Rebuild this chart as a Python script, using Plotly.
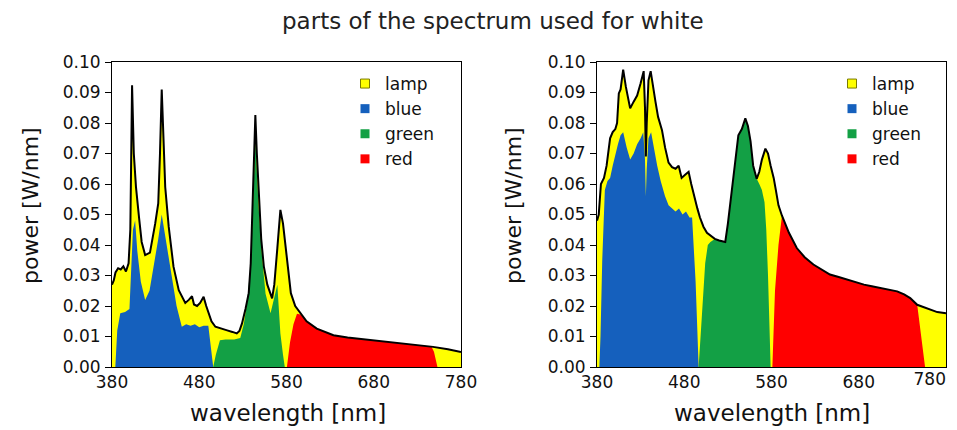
import plotly.graph_objects as go

# ---------------- data ----------------
# Left panel: fluorescent lamp
left_lamp_wl = [380, 382, 384, 387, 390, 393, 396, 399, 401, 403, 405, 407.5, 411, 414, 418, 423.5, 429.5, 433, 435, 437,
                439, 441, 445, 450.5, 456.5, 464, 468, 471.7, 474, 477.5, 481, 485, 488, 490.7, 494, 498.5, 505, 512, 518,
                523, 526, 529, 533, 536.7, 539, 540.5, 542.5, 544.3, 546, 548, 551, 554, 558, 563.5, 566, 569.5, 573, 576,
                579, 582, 585, 590, 596, 603, 614.7, 633.8, 650, 672, 690, 710, 730, 748, 765, 780]
left_lamp_pw = [0.027, 0.0284, 0.031, 0.0324, 0.032, 0.033, 0.0313, 0.034, 0.045, 0.0924, 0.07, 0.059, 0.049, 0.041, 0.0367,
                0.0375, 0.047, 0.0536, 0.07, 0.091, 0.075, 0.059, 0.046, 0.0329, 0.0252, 0.021, 0.022, 0.0232, 0.0205, 0.020,
                0.021, 0.023, 0.020, 0.0176, 0.015, 0.0132, 0.0125, 0.012, 0.0115, 0.011, 0.0118, 0.0143, 0.019, 0.0242,
                0.034, 0.046, 0.065, 0.0826, 0.07, 0.0568, 0.042, 0.033, 0.027, 0.0225, 0.027, 0.039, 0.0515, 0.047, 0.039,
                0.030, 0.0242, 0.020, 0.0176, 0.015, 0.0126, 0.0104, 0.0097, 0.009, 0.0085, 0.0079, 0.0073, 0.0066, 0.0058,
                0.0049]

left_blue_wl = [383.8, 386, 389.5, 395, 400, 402, 404, 406.5, 409, 413, 418, 423, 428, 433, 437, 441, 445, 449, 454, 460,
                465, 470, 475, 480, 485, 490.4, 493, 496]
left_blue_pw = [0, 0.012, 0.0176, 0.018, 0.019, 0.03, 0.045, 0.048, 0.038, 0.028, 0.022, 0.025, 0.033, 0.042, 0.05, 0.043,
                0.036, 0.030, 0.020, 0.0132, 0.014, 0.0135, 0.014, 0.013, 0.0135, 0.0135, 0.007, 0]

left_green_wl = [496, 499, 503.7, 510, 520, 527, 531, 534.8, 538, 540.5, 542.5, 544.3, 546, 548, 552, 556, 561.7, 565,
                 567.5, 569.5, 571, 573, 576, 578]
left_green_pw = [0, 0.004, 0.0088, 0.009, 0.009, 0.0095, 0.014, 0.021, 0.031, 0.044, 0.06, 0.0744, 0.064, 0.0525, 0.036,
                 0.024, 0.0176, 0.022, 0.0252, 0.027, 0.02, 0.011, 0.004, 0]

left_red_wl = [580.5, 584, 588, 592, 596, 603, 614.7, 633.8, 650, 672, 690, 710, 730, 746, 749, 751, 753]
left_red_pw = [0, 0.008, 0.014, 0.0175, 0.0172, 0.015, 0.0126, 0.0104, 0.0097, 0.009, 0.0085, 0.0079, 0.0073, 0.0067,
               0.005, 0.002, 0]

# Right panel: broadband lamp
right_lamp_wl = [380, 382, 384.5, 388, 391, 393, 395, 398, 401, 403, 405, 407, 410, 413, 418, 422, 426, 430, 433.5, 435,
                 436, 437, 439, 441.5, 444, 447, 450, 454.5, 458, 462, 466, 470, 473.6, 477, 481, 485, 488, 492, 495, 498,
                 502, 506, 510, 515, 520, 527, 530, 533, 537, 540, 542, 546, 550, 553, 556, 559, 563, 566, 569, 573, 576,
                 579, 582.5, 585, 588, 592, 600, 609, 618, 628, 637, 647, 657, 667, 676, 686, 695, 705, 715, 724, 732, 739,
                 747, 755, 762, 770, 780]
right_lamp_pw = [0.048, 0.050, 0.060, 0.062, 0.066, 0.0716, 0.075, 0.077, 0.078, 0.080, 0.0897, 0.091, 0.0975, 0.092,
                 0.0848, 0.087, 0.089, 0.093, 0.097, 0.085, 0.069, 0.080, 0.094, 0.097, 0.092, 0.087, 0.082, 0.0776, 0.072,
                 0.067, 0.0655, 0.065, 0.066, 0.062, 0.063, 0.064, 0.060, 0.055, 0.052, 0.049, 0.046, 0.044, 0.043, 0.042,
                 0.0415, 0.041, 0.047, 0.054, 0.064, 0.071, 0.076, 0.078, 0.0815, 0.079, 0.074, 0.066, 0.0617, 0.064, 0.068,
                 0.0716, 0.070, 0.066, 0.062, 0.058, 0.053, 0.0496, 0.044, 0.039, 0.036, 0.0336, 0.032, 0.0303, 0.0295,
                 0.0286, 0.028, 0.027, 0.0265, 0.0259, 0.0255, 0.0248, 0.0238, 0.0226, 0.0204, 0.0195, 0.0187, 0.018, 0.0176]

right_blue_wl = [382.7, 384, 386, 389, 392, 395, 398, 401, 404, 407, 410, 414, 418, 422, 426, 430, 433, 435, 436, 437, 439,
                 442, 445, 449, 453, 458, 462, 466, 470, 474, 478, 482, 486, 489, 491, 493, 495, 496.5]
right_blue_pw = [0, 0.01, 0.035, 0.058, 0.061, 0.062, 0.066, 0.070, 0.073, 0.076, 0.077, 0.072, 0.068, 0.070, 0.073, 0.075,
                 0.077, 0.068, 0.056, 0.065, 0.075, 0.077, 0.072, 0.066, 0.061, 0.056, 0.053, 0.052, 0.051, 0.052, 0.050,
                 0.051, 0.049, 0.049, 0.040, 0.028, 0.012, 0]

right_green_wl = [496.5, 499, 501, 504, 507, 510, 515, 520, 527, 530, 533, 537, 540, 542, 546, 550, 553, 556, 559, 563, 566,
                  569, 572, 574, 576, 578, 579]
right_green_pw = [0, 0.012, 0.022, 0.034, 0.040, 0.041, 0.042, 0.0415, 0.041, 0.047, 0.054, 0.064, 0.071, 0.076, 0.078,
                  0.0815, 0.079, 0.074, 0.066, 0.0617, 0.060, 0.058, 0.054, 0.045, 0.030, 0.012, 0]

right_red_wl = [581, 584, 588, 592, 600, 609, 618, 628, 637, 647, 657, 667, 676, 686, 695, 705, 715, 724, 732, 739, 747,
                750, 753, 756]
right_red_pw = [0, 0.025, 0.040, 0.0496, 0.044, 0.039, 0.036, 0.0336, 0.032, 0.0303, 0.0295, 0.0286, 0.028, 0.027, 0.0265,
                0.0259, 0.0255, 0.0248, 0.0238, 0.0226, 0.0204, 0.014, 0.006, 0]

series_names = ["lamp", "blue", "green", "red"]
x_ticks = [380, 480, 580, 680, 780]
y_ticks = [0.00, 0.01, 0.02, 0.03, 0.04, 0.05, 0.06, 0.07, 0.08, 0.09, 0.10]

# ---------------- styling ----------------
YELLOW = "#FFFF00"
BLUE = "#1560BD"
GREEN = "#13A045"
RED = "#FF0000"
FONT = "DejaVu Sans, sans-serif"
W, H = 957, 430

panels = [
    dict(lamp=(left_lamp_wl, left_lamp_pw), blue=(left_blue_wl, left_blue_pw),
         green=(left_green_wl, left_green_pw), red=(left_red_wl, left_red_pw),
         xaxis="x", yaxis="y", legend="legend"),
    dict(lamp=(right_lamp_wl, right_lamp_pw), blue=(right_blue_wl, right_blue_pw),
         green=(right_green_wl, right_green_pw), red=(right_red_wl, right_red_pw),
         xaxis="x2", yaxis="y2", legend="legend2"),
]

fig = go.Figure()
for p in panels:
    ax = dict(xaxis=p["xaxis"], yaxis=p["yaxis"])
    lx, ly = p["lamp"]
    fig.add_trace(go.Scatter(x=lx, y=ly, mode="lines", fill="tozeroy", fillcolor=YELLOW,
                             line=dict(color=YELLOW, width=0), showlegend=False, hoverinfo="skip", **ax))
    for key, col in (("blue", BLUE), ("green", GREEN), ("red", RED)):
        sx, sy = p[key]
        fig.add_trace(go.Scatter(x=sx, y=sy, mode="lines", fill="tozeroy", fillcolor=col,
                                 line=dict(color=col, width=0), showlegend=False, **ax))
    fig.add_trace(go.Scatter(x=lx, y=ly, mode="lines", line=dict(color="black", width=2),
                             showlegend=False, **ax))
    # legend entries
    for name, col in zip(series_names, (YELLOW, BLUE, GREEN, RED)):
        mline = dict(color="#7a7a00", width=1) if name == "lamp" else dict(color=col, width=0)
        fig.add_trace(go.Scatter(x=[None], y=[None], mode="markers", name=name,
                                 marker=dict(symbol="square", size=9, color=col, line=mline),
                                 legend=p["legend"], **ax))

# helper trace so the overlay axis carrying the right panel's last label is drawn
fig.add_trace(go.Scatter(x=[None], y=[None], mode="markers", showlegend=False, xaxis="x3", yaxis="y2"))

x_dom = [[112 / W, 461 / W], [597 / W, 946 / W]]
y_dom = [1 - 367 / H, 1 - 62 / H]

axis_common = dict(showline=True, linecolor="black", linewidth=1, mirror=True, showgrid=False, zeroline=False,
                   tickfont=dict(family=FONT, size=17, color="#111"))
layout = dict(width=W, height=H, margin=dict(l=0, r=0, t=0, b=0), plot_bgcolor="white", paper_bgcolor="white",
              font=dict(family=FONT, color="#111"))
# left panel shows all x labels; right panel's final label sits just left of its tick (as in the reference)
x_tickvals = [x_ticks, x_ticks[:-1]]
for i, suf in enumerate(["", "2"]):
    layout["xaxis" + suf] = dict(domain=x_dom[i], range=[380, 780], tickmode="array", tickvals=x_tickvals[i],
                                 ticks="", anchor="y" + suf, automargin=False,
                                 ticklabelstandoff=0, **axis_common)
    layout["yaxis" + suf] = dict(domain=y_dom, range=[0, 0.10], tickmode="array", tickvals=y_ticks,
                                 tickformat=".2f", ticks="outside", ticklen=6, tickcolor="black",
                                 anchor="x" + suf, automargin=False, ticklabelstandoff=1, **axis_common)
layout["xaxis3"] = dict(domain=x_dom[1], range=[380, 780], overlaying="x2", anchor="y2", side="bottom",
                        tickmode="array", tickvals=x_ticks[-1:], ticks="", showline=False, showgrid=False,
                        zeroline=False, ticklabelposition="outside left", ticklabelstandoff=0, automargin=False,
                        tickfont=dict(family=FONT, size=17, color="#111"))
leg_common = dict(bgcolor="rgba(0,0,0,0)", font=dict(family=FONT, size=17, color="#111"),
                  xanchor="left", yanchor="top", itemclick=False, tracegroupgap=0)
layout["legend"] = dict(x=345 / W, y=1 - 66 / H, **leg_common)
layout["legend2"] = dict(x=832 / W, y=1 - 66 / H, **leg_common)

annotations = [
    dict(text="parts of the spectrum used for white", x=493 / W, y=1 - 21 / H, xref="paper", yref="paper",
         showarrow=False, font=dict(family=FONT, size=23, color="#222"), xanchor="center", yanchor="middle"),
    dict(text="power [W/nm]", x=30 / W, y=1 - 206 / H, xref="paper", yref="paper", textangle=-90,
         showarrow=False, font=dict(family=FONT, size=22, color="#111"), xanchor="center", yanchor="middle"),
    dict(text="power [W/nm]", x=513 / W, y=1 - 206 / H, xref="paper", yref="paper", textangle=-90,
         showarrow=False, font=dict(family=FONT, size=22, color="#111"), xanchor="center", yanchor="middle"),
    dict(text="wavelength [nm]", x=288 / W, y=1 - 413 / H, xref="paper", yref="paper",
         showarrow=False, font=dict(family=FONT, size=23, color="#111"), xanchor="center", yanchor="middle"),
    dict(text="wavelength [nm]", x=772 / W, y=1 - 413 / H, xref="paper", yref="paper",
         showarrow=False, font=dict(family=FONT, size=23, color="#111"), xanchor="center", yanchor="middle"),
]
layout["annotations"] = annotations
fig.update_layout(**layout)

fig.write_html("out.html")
